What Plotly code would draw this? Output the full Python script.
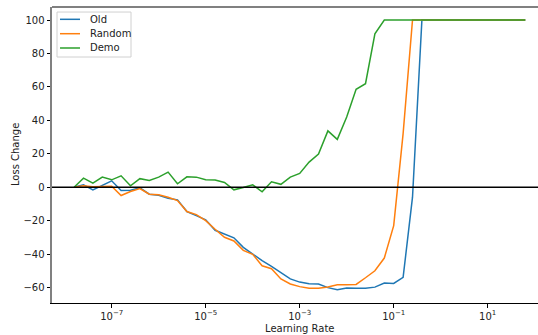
import plotly.graph_objects as go

# Learning-rate values (x), log spaced
lr = [1.585e-08, 2.512e-08, 3.981e-08, 6.310e-08, 1.000e-07,
      1.585e-07, 2.512e-07, 3.981e-07, 6.310e-07, 1.000e-06,
      1.585e-06, 2.512e-06, 3.981e-06, 6.310e-06, 1.000e-05,
      1.585e-05, 2.512e-05, 3.981e-05, 6.310e-05, 1.000e-04,
      1.585e-04, 2.512e-04, 3.981e-04, 6.310e-04, 1.000e-03,
      1.585e-03, 2.512e-03, 3.981e-03, 6.310e-03, 1.000e-02,
      1.585e-02, 2.512e-02, 3.981e-02, 6.310e-02, 1.000e-01,
      1.585e-01, 2.512e-01, 3.981e-01, 6.310e-01, 1.000e+00,
      1.585e+00, 2.512e+00, 3.981e+00, 6.310e+00, 1.000e+01,
      1.585e+01, 2.512e+01, 3.981e+01, 6.310e+01]

old = [0, 1.4, -1.6, 1.2, 3.8, -2, -1.8, -0.4, -4.2, -4.8,
       -6.6, -7.6, -14.6, -17, -19.5, -25.8, -28.1, -30.3, -36, -40,
       -44, -47.4, -51.2, -54.9, -56.8, -57.8, -58, -60.1, -61.4, -60.3,
       -60.5, -60.5, -59.8, -57.4, -57.6, -54, -6, 100, 100, 100,
       100, 100, 100, 100, 100, 100, 100, 100, 100]

random_ = [0, 0.8, 0.2, 0.2, 0.6, -5, -2.6, -0.8, -4.2, -4.6,
           -6, -8, -14.6, -16.4, -20, -25.2, -30, -32.2, -37.8, -40.2,
           -47, -48.8, -54.9, -57.9, -59.5, -60.5, -60.5, -59.7, -58.4, -58.4,
           -58.2, -54.2, -50, -42.4, -23, 32, 100, 100, 100, 100,
           100, 100, 100, 100, 100, 100, 100, 100, 100]

demo = [0, 5.4, 2.4, 6, 4.4, 6.8, 0.8, 5.1, 4, 6,
        9, 2, 6.2, 6, 4.5, 4.3, 2.8, -1.6, -0.2, 1.4,
        -2.8, 3.2, 1.7, 6, 8.2, 15, 19.8, 33.7, 28.6, 42,
        58.6, 61.9, 91.8, 100, 100, 100, 100, 100, 100, 100,
        100, 100, 100, 100, 100, 100, 100, 100, 100]

series_names = ["Old", "Random", "Demo"]
series_colors = ["#1f77b4", "#ff7f0e", "#2ca02c"]
series_values = [old, random_, demo]

y_ticks = [-60, -40, -20, 0, 20, 40, 60, 80, 100]
x_tick_exp = [-7, -5, -3, -1, 1]
x_tick_text = ["10<sup>\u2212%d</sup>" % (-e) if e < 0 else "10<sup>%d</sup>" % e for e in x_tick_exp]

FONT = "DejaVu Sans"
TXT = "#222"
fig = go.Figure()
for name, vals, col in zip(series_names, series_values, series_colors):
    fig.add_trace(go.Scatter(x=lr, y=vals, mode="lines", name=name,
                             line=dict(color=col, width=1.5), showlegend=False))

fig.update_layout(
    width=538, height=335,
    margin=dict(l=52, r=0, t=7, b=32),
    paper_bgcolor="white", plot_bgcolor="white",
    font=dict(family=FONT, size=10, color=TXT),
    showlegend=False,
    xaxis=dict(type="log", range=[-8.27, 2.07],
               tickvals=[10.0 ** e for e in x_tick_exp], ticktext=x_tick_text,
               showgrid=False, zeroline=False,
               showline=True, linecolor="black", linewidth=1,
               ticks="outside", ticklen=3.5, tickcolor="black", tickwidth=1),
    yaxis=dict(range=[-69.3, 107.8], tickvals=y_ticks,
               showgrid=False, zeroline=False,
               showline=True, linecolor="#808080", linewidth=2,
               ticks="outside", ticklen=3.5, tickcolor="black", tickwidth=1),
)

# top spine
fig.add_shape(type="line", xref="paper", yref="paper", x0=0, x1=1, y0=1, y1=1,
              line=dict(color="#808080", width=2))
# zero line
fig.add_shape(type="line", xref="paper", yref="y", x0=0, x1=1, y0=0, y1=0,
              line=dict(color="black", width=1.5), layer="above")

# legend (matplotlib style, upper left)
fig.add_shape(type="rect", xref="paper", yref="paper", x0=0.0103, x1=0.1626,
              y0=0.831, y1=0.983, line=dict(color="#d0d0d0", width=1),
              fillcolor="rgba(255,255,255,0.8)", layer="above")
leg_y = [0.9584, 0.9098, 0.8615]
for name, col, yy in zip(series_names, series_colors, leg_y):
    fig.add_shape(type="line", xref="paper", yref="paper", x0=0.0165, x1=0.0576,
                  y0=yy, y1=yy, line=dict(color=col, width=1.5), layer="above")
    fig.add_annotation(text=name, xref="paper", yref="paper", x=0.0741, y=yy,
                       xanchor="left", yanchor="middle", showarrow=False,
                       font=dict(family=FONT, size=10, color=TXT))

fig.add_annotation(text="Learning Rate", xref="paper", yref="paper", x=0.51, y=0,
                   yshift=-25, xanchor="center", yanchor="middle", showarrow=False,
                   font=dict(family=FONT, size=10, color=TXT))
fig.add_annotation(text="Loss Change", xref="paper", yref="paper", x=-0.076, y=0.5,
                   textangle=-90, xanchor="center", yanchor="middle", showarrow=False,
                   font=dict(family=FONT, size=10, color=TXT))

fig.write_html("out.html", config={"displayModeBar": False},
               post_script="document.body.style.margin='0';document.body.style.padding='0';")
